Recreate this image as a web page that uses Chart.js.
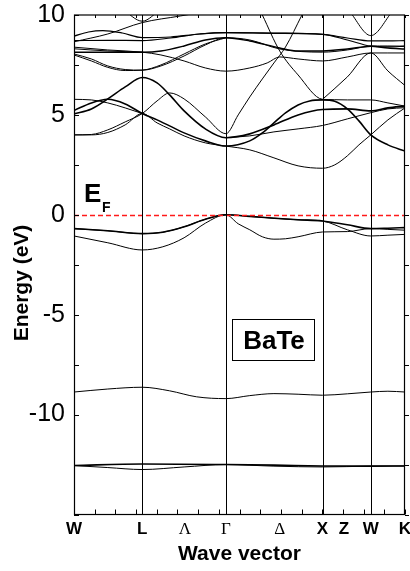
<!DOCTYPE html>
<html>
<head>
<meta charset="utf-8">
<script src="https://cdn.jsdelivr.net/npm/chart.js@4.4.1/dist/chart.umd.min.js"></script>
<style>
  html, body { margin: 0; padding: 0; background: #fff; }
  #wrap { width: 410px; height: 571px; }
</style>
</head>
<body>
<div id="wrap"><canvas id="myChart" width="410" height="571"></canvas></div>
<script>
// high symmetry points along the path (units of 2pi/a)
const kSym = [0, 0.707, 1.573, 2.573, 3.073, 3.427];
const xTickPos = [0, 0.707, 1.149, 1.573, 2.13, 2.573, 2.795, 3.073, 3.427];
const xTickLabels = ["W", "L", "\u039B", "\u0393", "\u0394", "X", "Z", "W", "K"];
const yTickLabels = [10, 5, 0, -5, -10];

// bands: [k, E(eV)]
const semicore1 = [[0,-12.55],[0.707,-12.47],[1.573,-12.5],[2.07,-12.53],[2.573,-12.57],[3.073,-12.58],[3.427,-12.57]];
const semicore2 = [[0,-12.55],[0.35,-12.65],[0.707,-12.75],[1.14,-12.62],[1.573,-12.5],[2.07,-12.58],[2.573,-12.62],[3.073,-12.58],[3.427,-12.57]];
const baP = [[0,-8.87],[0.35,-8.72],[0.707,-8.63],[0.99,-8.81],[1.27,-9.11],[1.573,-9.2],[1.82,-9.05],[2.07,-8.95],[2.32,-8.98],[2.573,-9.03],[2.83,-8.96],[3.073,-8.87],[3.25,-8.83],[3.427,-8.87]];

const val1 = [[0,-0.69],[0.35,-0.8],[0.707,-0.94],[0.92,-0.87],[1.14,-0.6],[1.36,-0.22],[1.573,0],[1.82,-0.08],[2.07,-0.17],[2.32,-0.25],[2.573,-0.31],[2.83,-0.5],[3.073,-0.69],[3.25,-0.67],[3.427,-0.64]];
const val2 = [[0,-0.69],[0.35,-0.8],[0.707,-0.94],[0.92,-0.87],[1.14,-0.6],[1.36,-0.22],[1.573,0],[1.82,-0.08],[2.07,-0.17],[2.32,-0.25],[2.573,-0.31],[2.83,-0.75],[3.073,-1.06],[3.25,-1.02],[3.427,-0.98]];
const val3 = [[0,-1.06],[0.35,-1.4],[0.707,-1.76],[0.92,-1.6],[1.14,-1.15],[1.36,-0.42],[1.573,0],[1.70,-0.45],[1.82,-0.75],[1.95,-1.1],[2.07,-1.22],[2.19,-1.2],[2.32,-1.1],[2.573,-0.86],[2.83,-0.84],[3.073,-0.69],[3.25,-0.73],[3.427,-0.77]];

// lower conduction bands
const cond1 = [[0,4.0],[0.18,4.0],[0.35,4.12],[0.53,4.5],[0.707,5.07],[0.86,4.6],[0.99,4.3],[1.14,3.95],[1.36,3.6],[1.573,3.44],[1.82,3.25],[2.07,2.85],[2.32,2.45],[2.573,2.33],[2.70,2.5],[2.83,2.95],[2.95,3.5],[3.073,4.0],[3.25,4.75],[3.427,5.35]];
const cond2 = [[0,4.0],[0.18,4.02],[0.35,4.25],[0.53,4.65],[0.707,5.07],[0.86,5.7],[0.99,6.1],[1.14,5.8],[1.36,4.9],[1.573,4.06],[1.70,5.0],[1.82,5.9],[1.95,6.8],[2.07,7.6],[2.19,8.4],[2.36,10.0]];
const cond3 = [[0,5.05],[0.18,5.3],[0.35,5.8],[0.53,6.4],[0.707,6.87],[0.86,6.6],[0.99,6.0],[1.14,5.2],[1.36,4.3],[1.573,3.86],[1.82,4.05],[2.07,4.5],[2.32,5.0],[2.573,5.27],[2.83,5.3],[3.073,5.2],[3.25,5.35],[3.427,5.44]];
const cond4 = [[0,5.22],[0.18,5.6],[0.35,5.78],[0.53,5.55],[0.707,5.07],[0.86,4.75],[0.99,4.45],[1.14,4.1],[1.36,3.7],[1.573,3.44],[1.82,3.7],[1.95,4.1],[2.07,4.6],[2.19,5.1],[2.32,5.5],[2.44,5.7],[2.573,5.75],[2.70,5.68],[2.83,5.3],[2.95,4.7],[3.073,4.0],[3.25,3.5],[3.427,3.19]];
const cond5 = [[0,5.78],[0.18,5.75],[0.35,5.6],[0.53,5.35],[0.707,5.07]];
const cond6 = [[1.573,3.86],[1.82,3.95],[2.07,4.15],[2.32,4.3],[2.573,4.47],[2.83,4.8],[3.073,5.11],[3.25,5.3],[3.427,5.36]];
const cond7 = [[1.95,10.0],[2.13,8.2],[2.32,7.0],[2.573,5.78],[2.70,5.76],[2.83,5.75],[3.073,5.75],[3.25,5.6],[3.427,5.44]];
const cond8 = [[2.573,5.78],[2.83,6.9],[3.073,8.1],[3.25,7.2],[3.427,6.47]];

// upper conduction bands
const upA = [[0,8.94],[0.15,9.15],[0.3,9.22],[0.5,9.1],[0.707,8.87],[1.0,8.9],[1.3,9.05],[1.573,9.12],[2.07,9.1],[2.573,9.03],[2.83,8.85],[3.073,8.7],[3.25,8.7],[3.427,8.72]];
const upB = [[0,8.72],[0.35,8.73],[0.707,8.72],[1.0,8.85],[1.3,9.05],[1.573,9.12],[2.07,9.08],[2.573,9.03],[2.83,8.75],[3.073,8.44],[3.25,8.4],[3.427,8.44]];
const upC = [[0,8.14],[0.35,8.14],[0.707,8.14],[0.9,8.2],[1.14,8.45],[1.36,8.75],[1.573,8.86],[1.82,8.7],[2.13,8.35],[2.32,8.2],[2.573,8.2],[2.83,8.3],[3.073,8.44],[3.25,8.35],[3.427,8.3]];
const upD = [[0,8.39],[0.35,8.25],[0.707,8.14],[0.9,8.0],[1.14,7.7],[1.36,7.35],[1.573,7.19],[1.82,7.35],[2.0,7.6],[2.13,7.9],[2.32,7.8],[2.573,7.7],[2.83,7.9],[3.073,8.1],[3.25,8.1],[3.427,8.1]];
const upE = [[0,8.31],[0.35,8.2],[0.707,8.14]];
const upF = [[0,8.05],[0.18,7.8],[0.35,7.45],[0.53,7.27],[0.707,7.24],[0.9,7.45],[1.14,7.95],[1.36,8.5],[1.573,8.86],[1.82,8.75],[2.13,8.3],[2.573,8.14],[2.83,8.25],[3.073,8.44],[3.25,8.45],[3.427,8.44]];
const upG = [[0,8.0],[0.18,7.7],[0.35,7.38],[0.53,7.22],[0.707,7.24],[0.9,7.5],[1.14,8.05],[1.36,8.55],[1.573,8.86]];
const upH = [[0,8.66],[0.35,9.05],[0.707,9.62],[1.1,9.95],[1.4,10.2]];
const upVL = [[0.50,10.3],[0.707,9.69],[0.90,10.3]];
const upVW = [[2.85,10.2],[3.073,8.97],[3.30,10.2]];

const bands = [
  { d: semicore1, w: 1.6 }, { d: semicore2, w: 1 }, { d: baP, w: 1 },
  { d: val1, w: 1.6 }, { d: val2, w: 1 }, { d: val3, w: 1 },
  { d: cond1, w: 1 }, { d: cond2, w: 1 }, { d: cond3, w: 1.6 }, { d: cond4, w: 1.6 },
  { d: cond5, w: 1 }, { d: cond6, w: 1 }, { d: cond7, w: 1 }, { d: cond8, w: 1 },
  { d: upA, w: 1.2 }, { d: upB, w: 1.2 }, { d: upC, w: 1.5 }, { d: upD, w: 1 }, { d: upE, w: 1 },
  { d: upF, w: 1 }, { d: upG, w: 1 }, { d: upH, w: 1 }, { d: upVL, w: 1 }, { d: upVW, w: 1 }
];

const frame = {
  id: "frame",
  afterDatasetsDraw(chart) {
    const { ctx, chartArea: a, scales } = chart;
    const x = scales.x, y = scales.y;
    ctx.save();
    // Fermi level
    const y0 = Math.round(y.getPixelForValue(0)) + 0.5;
    ctx.strokeStyle = "#ff1a1a";
    ctx.lineWidth = 1.4;
    ctx.setLineDash([5, 3]);
    ctx.beginPath();
    ctx.moveTo(a.left, y0);
    ctx.lineTo(a.right, y0);
    ctx.stroke();
    ctx.setLineDash([]);
    // symmetry lines
    ctx.strokeStyle = "#000";
    ctx.lineWidth = 1;
    kSym.slice(1, -1).forEach(k => {
      const px = Math.round(x.getPixelForValue(k)) + 0.5;
      ctx.beginPath();
      ctx.moveTo(px, a.top);
      ctx.lineTo(px, a.bottom);
      ctx.stroke();
    });
    // border
    ctx.lineWidth = 1.2;
    ctx.strokeRect(a.left + 0.5, a.top, a.right - a.left - 1, a.bottom - a.top);
    // inner ticks
    ctx.lineWidth = 1;
    for (let v = -15; v <= 10; v += 2.5) {
      const py = Math.round(y.getPixelForValue(v)) + 0.5;
      ctx.beginPath();
      ctx.moveTo(a.left, py); ctx.lineTo(a.left + 5, py);
      ctx.moveTo(a.right, py); ctx.lineTo(a.right + 4, py);
      ctx.stroke();
    }
    for (let i = 0; i <= 16; i++) {
      const px = Math.round(x.getPixelForValue(i * 3.427 / 16)) + 0.5;
      ctx.beginPath();
      ctx.moveTo(px, a.bottom); ctx.lineTo(px, a.bottom - 5);
      ctx.moveTo(px, a.top); ctx.lineTo(px, a.top + 3);
      ctx.stroke();
    }
    // texts
    ctx.fillStyle = "#000";
    ctx.font = "bold 26px 'Liberation Sans', Arial, sans-serif";
    ctx.textBaseline = "alphabetic";
    ctx.fillText("E", 84, 202);
    ctx.font = "bold 14px 'Liberation Sans', Arial, sans-serif";
    ctx.fillText("F", 102, 212);
    ctx.lineWidth = 1;
    ctx.strokeRect(232.5, 319.5, 82, 41);
    ctx.font = "bold 26px 'Liberation Sans', Arial, sans-serif";
    ctx.textAlign = "center";
    ctx.fillText("BaTe", 274, 349);
    // y title
    ctx.translate(22, 283);
    ctx.rotate(-Math.PI / 2);
    ctx.font = "bold 21px 'Liberation Sans', Arial, sans-serif";
    ctx.textBaseline = "middle";
    ctx.fillText("Energy (eV)", 0, 0);
    ctx.restore();
  }
};

const ctx = document.getElementById("myChart");
new Chart(ctx, {
  type: "line",
  data: {
    datasets: bands.map(b => ({
      data: b.d.map(p => ({ x: p[0], y: p[1] })),
      borderColor: "#000",
      borderWidth: b.w,
      pointRadius: 0,
      fill: false,
      cubicInterpolationMode: "monotone"
    }))
  },
  options: {
    responsive: false,
    animation: false,
    devicePixelRatio: 1,
    layout: { autoPadding: false, padding: { top: 15, right: 5, left: 0, bottom: 0 } },
    plugins: { legend: { display: false }, tooltip: { enabled: false } },
    scales: {
      x: {
        type: "linear",
        min: 0,
        max: 3.427,
        afterFit(s) { s.height = 56.5; s.paddingLeft = 0; s.paddingRight = 0; },
        afterBuildTicks(s) { s.ticks = xTickPos.map(v => ({ value: v })); },
        grid: { display: false, drawTicks: false },
        border: { display: false },
        ticks: {
          autoSkip: false,
          maxRotation: 0,
          padding: 5,
          color: "#000",
          callback: (v, i) => xTickLabels[i],
          font: (c) => {
            const greek = [2, 3, 4].includes(c.index);
            return greek
              ? { family: "'Liberation Serif', 'DejaVu Serif', serif", size: 17, weight: "normal" }
              : { family: "'Liberation Sans', Arial, sans-serif", size: 17, weight: "bold" };
          }
        },
        title: {
          display: true,
          text: "Wave vector",
          color: "#000",
          padding: { top: 4 },
          font: { family: "'Liberation Sans', Arial, sans-serif", size: 21, weight: "bold" }
        }
      },
      y: {
        min: -15,
        max: 10,
        afterFit(s) { s.width = 74; s.paddingTop = 0; s.paddingBottom = 0; },
        afterBuildTicks(s) { s.ticks = yTickLabels.map(v => ({ value: v })); },
        grid: { display: false, drawTicks: false },
        border: { display: false },
        ticks: {
          padding: 9,
          color: "#000",
          font: { family: "'Liberation Sans', Arial, sans-serif", size: 25 }
        }
      }
    }
  },
  plugins: [frame]
});
</script>
</body>
</html>
